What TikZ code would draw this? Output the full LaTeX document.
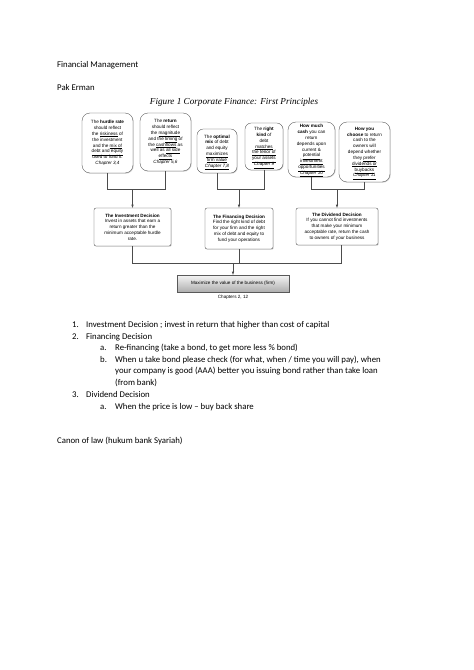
\documentclass[tikz,border=0pt]{standalone}
\usepackage{fontspec}
\setmainfont{Carlito}
\newfontfamily\capfont{Liberation Serif}
\newfontfamily\diagfont{Liberation Sans}
\usetikzlibrary{positioning,shadows}
\newcommand{\dgfont}{\diagfont\fontsize{5.8}{7.3}\selectfont}
\newcommand{\ul}[1]{\smash{\underline{#1}}}

\tikzset{
  txt/.style={anchor=base west,inner sep=0pt,font=\fontsize{11}{13}\selectfont},
  idea/.style={draw=black!75,fill=white,rounded corners=10pt,align=center,
               inner sep=1pt,font=\dgfont,
               drop shadow={shadow xshift=0.9pt,shadow yshift=-0.9pt,fill=black!35}},
  decision/.style={draw=black!75,fill=white,rounded corners=2.5pt,align=center,
                   inner sep=1pt,font=\dgfont,
                   drop shadow={shadow xshift=0.9pt,shadow yshift=-0.9pt,fill=black!35}},
  link/.style={draw=black!70,line width=0.45pt},
}

\begin{document}
\begin{tikzpicture}[x=1.2553pt,y=-1.2553pt,>=latex]

  \useasboundingbox[fill=white] (0,0) rectangle (474,670);

  \node [txt] (fm) at (57,67) {Financial Management};
  \node [txt] (pe) at (57,90) {Pak Erman};
  \node [anchor=base,inner sep=0pt,font=\capfont\itshape\fontsize{11.5}{13}\selectfont]
        (title) at (234,104) {Figure 1 Corporate Finance: First Principles};

  \node [idea,minimum width=51*1.2553pt,minimum height=60*1.2553pt] (hurdle) at (107.5,143)
        {The \textbf{hurdle rate}\\ should reflect\\ the \ul{riskiness} of\\
         the investment\\ and the \ul{mix of}\\ \ul{debt and equity}\\
         used to fund it.\\ \textit{Chapter 3,4}};
  \node [idea,minimum width=51*1.2553pt,minimum height=58*1.2553pt] (return) at (165.5,142)
        {The \textbf{return}\\ should reflect\\ the \ul{magnitude}\\
         and the \ul{timing} of\\ the \ul{cashflows} as\\
         well as \ul{all side}\\ \ul{effects}\\ \textit{Chapter 5,6}};
  \node [idea,rounded corners=8pt,minimum width=40*1.2553pt,minimum height=44*1.2553pt] (optmix) at (217,151)
        {The \textbf{optimal}\\ \textbf{mix} of debt\\ and equity\\
         \ul{maximizes}\\ \ul{firm value}\\ \ul{\textit{Chapter 7,8}}};
  \node [idea,rounded corners=8pt,minimum width=38*1.2553pt,minimum height=47*1.2553pt] (rightkind) at (264,146.5)
        {The \textbf{right}\\ \textbf{kind} of\\ debt\\ \ul{matches}\\
         \ul{the tenor of}\\ \ul{your assets}\\ \ul{\textit{Chapter 9}}};
  \node [idea,minimum width=47*1.2553pt,minimum height=55*1.2553pt] (howmuch) at (311.5,149.5)
        {\textbf{How much}\\ \textbf{cash} you can\\ return\\ depends upon\\
         current \&\\ \ul{potential}\\ \ul{investment}\\
         \ul{opportunities}\\ \ul{\textit{Chapter 10}}};
  \node [idea,minimum width=51*1.2553pt,minimum height=60*1.2553pt] (howyou) at (364.5,152)
        {\textbf{How you}\\ \textbf{choose} to return\\ cash to the\\ owners will\\
         depend whether\\ they \ul{prefer}\\ \ul{dividends or}\\
         \ul{buybacks}\\ \ul{\textit{Chapter 11}}};

  \node [decision,minimum width=77*1.2553pt,minimum height=38*1.2553pt] (inv) at (132.5,227)
        {\textbf{The Investment Decision}\\ Invest in assets that earn a\\
         return greater than the\\ minimum acceptable hurdle\\ rate.};
  \node [decision,minimum width=68*1.2553pt,minimum height=41*1.2553pt] (fin) at (239,228.5)
        {\textbf{The Financing Decision}\\ Find the right kind of debt\\
         for your firm and the right\\ mix of debt and equity to\\ fund your operations};
  \node [decision,minimum width=82*1.2553pt,minimum height=37*1.2553pt] (div) at (337,226.5)
        {\textbf{The Dividend Decision}\\ If you cannot find investments\\
         that make your minimum\\ acceptable rate, return the cash\\ to owners of your business};

  \node [draw=black!65,top color=black!4,bottom color=black!32,inner sep=1pt,font=\dgfont,
         minimum width=112*1.2553pt,minimum height=17*1.2553pt,
         drop shadow={shadow xshift=0.9pt,shadow yshift=-0.9pt,fill=black!35}]
        (maxval) at (233,283.5) {Maximize the value of the business (firm)};
  \node [below=3pt of maxval,inner sep=0pt,font=\dgfont] (chap) {Chapters 2, 12};

  \coordinate (topbar) at (0,189);
  \coordinate (lowbar) at (0,263);

  \draw [link] (hurdle.south) -- (hurdle.south |- topbar) -- (return.south |- topbar) -- (return.south);
  \draw [link,->] (inv.north |- topbar) -- (inv.north);
  \draw [link] (optmix.south) -- (optmix.south |- topbar) -- (rightkind.south |- topbar) -- (rightkind.south);
  \draw [link,->] (fin.north |- topbar) -- (fin.north);
  \draw [link] (howmuch.south) -- (howmuch.south |- topbar) -- (howyou.south |- topbar) -- (howyou.south);
  \draw [link,->] (div.north |- topbar) -- (div.north);

  \draw [link] (inv.south) -- (inv.south |- lowbar) -- ([xshift=5pt]div.south |- lowbar) -- ([xshift=5pt]div.south);
  \draw [link] (fin.south) -- (fin.south |- lowbar);
  \draw [link,->] (maxval.north |- lowbar) -- (maxval.north);

  \node [txt] (n1) at (72,327) {1.};
  \node [txt] (i1) at (86,327) {Investment Decision ; invest in return that higher than cost of capital};
  \node [txt] (n2) at (72,339) {2.};
  \node [txt] (i2) at (86,339) {Financing Decision};
  \node [txt] (n2a) at (100,350.5) {a.};
  \node [txt] (i2a) at (115,350.5) {Re-financing (take a bond, to get more less \% bond)};
  \node [txt] (n2b) at (100,362) {b.};
  \node [txt] (i2b) at (115,362) {When u take bond please check (for what, when / time you will pay), when};
  \node [txt] (i2b2) at (115,373.5) {your company is good (AAA) better you issuing bond rather than take loan};
  \node [txt] (i2b3) at (115,385) {(from bank)};
  \node [txt] (n3) at (72,397) {3.};
  \node [txt] (i3) at (86,397) {Dividend Decision};
  \node [txt] (n3a) at (100,409) {a.};
  \node [txt] (i3a) at (115,409) {When the price is low – buy back share};
  \node [txt] (canon) at (57,443) {Canon of law (hukum bank Syariah)};

\end{tikzpicture}
\end{document}
